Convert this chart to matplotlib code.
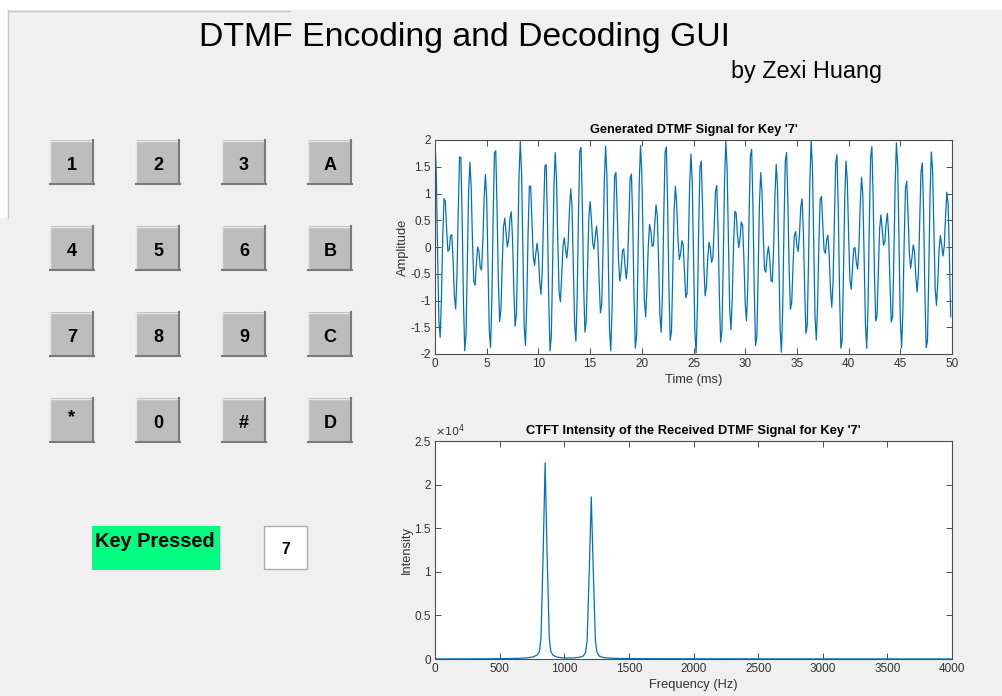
import numpy as np
import matplotlib
matplotlib.use("Agg")
import matplotlib.pyplot as plt
from matplotlib.patches import Rectangle

# ---------------- data ----------------
keys = [['1', '2', '3', 'A'],
        ['4', '5', '6', 'B'],
        ['7', '8', '9', 'C'],
        ['*', '0', '#', 'D']]
low_freqs = [697, 770, 852, 941]        # row tones (Hz)
high_freqs = [1209, 1336, 1477, 1633]   # column tones (Hz)
key_pressed = '7'
fs = 8000                                # sample rate (Hz)
n_samples = 400                          # 50 ms shown

time_ticks = [0, 5, 10, 15, 20, 25, 30, 35, 40, 45, 50]
amp_ticks = [-2, -1.5, -1, -0.5, 0, 0.5, 1, 1.5, 2]
amp_labels = ['-2', '-1.5', '-1', '-0.5', '0', '0.5', '1', '1.5', '2']
freq_ticks = [0, 500, 1000, 1500, 2000, 2500, 3000, 3500, 4000]
int_ticks = [0, 5000, 10000, 15000, 20000, 25000]
int_labels = ['0', '0.5', '1', '1.5', '2', '2.5']

# spectrum
spec_freq = [0, 200, 400, 550, 650, 720, 760, 790, 808, 820, 837, 852, 867, 884,
             896, 914, 944, 980, 1030, 1080, 1117, 1147, 1165, 1177, 1194, 1209,
             1224, 1241, 1253, 1271, 1301, 1350, 1450, 1600, 2000, 2500, 3000,
             3500, 4000]
spec_intensity = [10, 15, 25, 45, 80, 140, 250, 450, 850, 2400, 12200, 22500,
                  12200, 2400, 850, 420, 220, 140, 110, 130, 200, 340, 750, 2100,
                  10400, 18600, 10400, 2100, 750, 340, 170, 100, 60, 40, 25, 15,
                  10, 8, 6]

# generated DTMF tone for the pressed key
r = [i for i, row in enumerate(keys) if key_pressed in row][0]
c = keys[r].index(key_pressed)
t = np.arange(n_samples) / fs
signal = np.cos(2 * np.pi * low_freqs[r] * t) + np.cos(2 * np.pi * high_freqs[c] * t)

# ---------------- figure ----------------
W, H = 1003, 696
plt.rcParams['font.family'] = ['Liberation Sans', 'DejaVu Sans']
fig = plt.figure(figsize=(W / 100, H / 100), dpi=100)
fig.patch.set_facecolor('#f0f0f0')

gui = fig.add_axes([0, 0, 1, 1], zorder=-1)
gui.set_xlim(0, W)
gui.set_ylim(H, 0)
gui.axis('off')

# white strips of the screenshot
gui.add_patch(Rectangle((0, 0), W, 10, facecolor='white', edgecolor='none'))
gui.add_patch(Rectangle((0, 10), 8, 208, facecolor='white', edgecolor='none'))
gui.plot([8, 290], [10.5, 10.5], color='#c8c8c8', lw=1)
gui.plot([8.5, 8.5], [10, 218], color='#c8c8c8', lw=1)

gui.text(465, 46, 'DTMF Encoding and Decoding GUI', fontsize=24.3, ha='center',
         va='baseline', color='black')
gui.text(807, 78, 'by Zexi Huang', fontsize=16.8, ha='center', va='baseline',
         color='black')

col_x = [50, 136, 222, 308]
row_y = [140, 226, 312, 398]
bs = 44
for i, row in enumerate(keys):
    for j, k in enumerate(row):
        x0, y0 = col_x[j], row_y[i]
        gui.add_patch(Rectangle((x0, y0), bs, bs, facecolor='#bdbdbd',
                                edgecolor='none'))
        gui.plot([x0, x0 + bs], [y0 + 0.5, y0 + 0.5], color='#e6e6e6', lw=1)
        gui.plot([x0 + 0.5, x0 + 0.5], [y0, y0 + bs], color='#e6e6e6', lw=1)
        gui.plot([x0, x0 + bs], [y0 + bs - 0.5, y0 + bs - 0.5], color='#7a7a7a', lw=1.5)
        gui.plot([x0 + bs - 0.5, x0 + bs - 0.5], [y0, y0 + bs], color='#7a7a7a', lw=1.5)
        dy = -6 if k == '*' else 0
        gui.text(x0 + bs / 2, y0 + 30 + dy, k, fontsize=13, fontweight='bold',
                 ha='center', va='baseline', color='black')

gui.add_patch(Rectangle((92, 526), 128, 44, facecolor='#00ff80', edgecolor='none'))
gui.text(95, 547, 'Key Pressed', fontsize=14.4, fontweight='bold', ha='left',
         va='baseline', color='black')
gui.add_patch(Rectangle((264.5, 525.5), 43, 43, facecolor='white',
                        edgecolor='#adadad', lw=1))
gui.text(286, 554, key_pressed, fontsize=11.5, fontweight='bold', ha='center',
         va='baseline', color='black')

line_color = '#0072BD'
axis_color = '#4d4d4d'
tick_color = '#333333'


def style(ax):
    ax.set_facecolor('white')
    for s in ax.spines.values():
        s.set_color(axis_color)
        s.set_linewidth(0.8)
    ax.tick_params(direction='in', length=4, width=0.7, color=axis_color,
                   labelsize=8.5, labelcolor=tick_color, top=True, right=True,
                   pad=3)


def fpos(x0, y0, x1, y1):
    return [x0 / W, 1 - y1 / H, (x1 - x0) / W, (y1 - y0) / H]


ax1 = fig.add_axes(fpos(435, 140, 952, 354))
style(ax1)
ax1.plot(t * 1000, signal, color=line_color, lw=0.9)
ax1.set_xlim(0, 50)
ax1.set_ylim(-2, 2)
ax1.set_xticks(time_ticks)
ax1.set_xticklabels([str(v) for v in time_ticks])
ax1.set_yticks(amp_ticks)
ax1.set_yticklabels(amp_labels)
ax1.set_title("Generated DTMF Signal for Key '%s'" % key_pressed, fontsize=9.2,
              fontweight='bold', pad=5, color='black')
ax1.set_xlabel('Time (ms)', fontsize=9.3, color=tick_color, labelpad=3)
ax1.set_ylabel('Amplitude', fontsize=9.3, color=tick_color, labelpad=1)

ax2 = fig.add_axes(fpos(435, 441, 952, 659))
style(ax2)
ax2.plot(spec_freq, spec_intensity, color=line_color, lw=0.9)
ax2.set_xlim(0, 4000)
ax2.set_ylim(0, 25000)
ax2.set_xticks(freq_ticks)
ax2.set_xticklabels([str(v) for v in freq_ticks])
ax2.set_yticks(int_ticks)
ax2.set_yticklabels(int_labels)
ax2.set_title("CTFT Intensity of the Received DTMF Signal for Key '%s'" % key_pressed,
              fontsize=9.3, fontweight='bold', pad=5, color='black')
ax2.set_xlabel('Frequency (Hz)', fontsize=9.3, color=tick_color, labelpad=3)
ax2.set_ylabel('Intensity', fontsize=9.3, color=tick_color, labelpad=1)
ax2.text(0.0, 1.008, r'$\times10^{4}$', transform=ax2.transAxes, fontsize=8,
         color=tick_color, ha='left', va='bottom')

fig.savefig('out.png', dpi=100, facecolor=fig.get_facecolor())
